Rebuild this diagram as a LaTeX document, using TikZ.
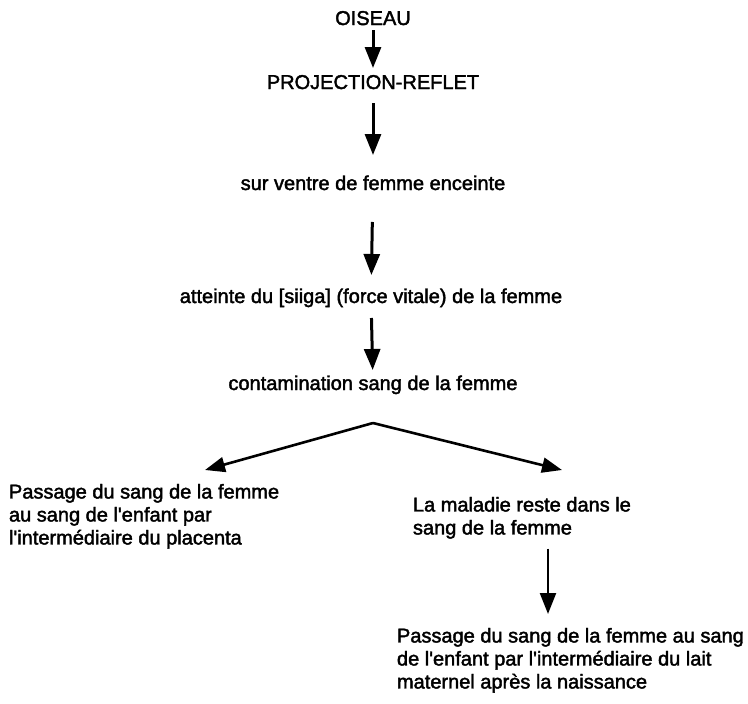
\documentclass[tikz,border=0pt]{standalone}
\usepackage{fontspec}
\newfontfamily\flowface{Liberation Sans}[FakeBold=2]
\usetikzlibrary{arrows.meta,calc}
\newcommand\flowfont{\flowface\fontsize{20}{23}\selectfont}
\begin{document}
\begin{tikzpicture}[x=1pt,y=-1pt,
  every node/.style={font=\flowfont,inner sep=0pt,outer sep=0pt},
  stage/.style={anchor=base,text height=15pt,text depth=4pt},
  block/.style={anchor=north west,align=left},
  flow/.style={line width=3pt,-{Triangle[width=16pt,length=21pt]}},
  branch/.style={line width=2.6pt,-{Triangle[width=15pt,length=20pt]}}]
\useasboundingbox (0,0) rectangle (748,704);

% main chain
\node[stage] (oiseau)   at (373,25)  {OISEAU};
\node[stage] (proj)     at (373,89)  {PROJECTION-REFLET};
\node[stage] (ventre)   at (373,190) {sur ventre de femme enceinte};
\node[stage] (atteinte) at (371,303) {atteinte du [siiga] (force vitale) de la femme};
\node[stage] (contam)   at (373,390) {contamination sang de la femme};

% the two outcomes
\node[block] (placenta) at (9,484)
  {Passage du sang de la femme\\au sang de l'enfant par\\l'intermédiaire du placenta};
\node[block] (reste) at (413,497)
  {La maladie reste dans le\\sang de la femme};
\node[block] (lait) at (397,628)
  {Passage du sang de la femme au sang\\de l'enfant par l'intermédiaire du lait\\maternel après la naissance};

% fork point and branch ends
\coordinate (fork) at (373,423);
\coordinate (tipL) at (205,470);
\coordinate (tipR) at (562,470);
\coordinate (laitx) at (548,0);

\draw[flow,shorten <=1pt,shorten >=6pt]  (oiseau)   -- (proj);
\draw[flow,shorten <=10pt,shorten >=20pt] (proj)    -- (ventre);
\draw[flow,shorten <=28pt,shorten >=13pt] (ventre)  -- (atteinte);
\draw[flow,shorten <=11pt,shorten >=5pt]  (atteinte) -- (contam);

\draw[branch] (fork) -- (tipL);
\draw[branch] (fork) -- (tipR);

\draw[flow,line width=2.4pt,shorten <=10pt,shorten >=14pt]
  (reste.south -| laitx) -- (lait.north -| laitx);
\end{tikzpicture}
\end{document}
